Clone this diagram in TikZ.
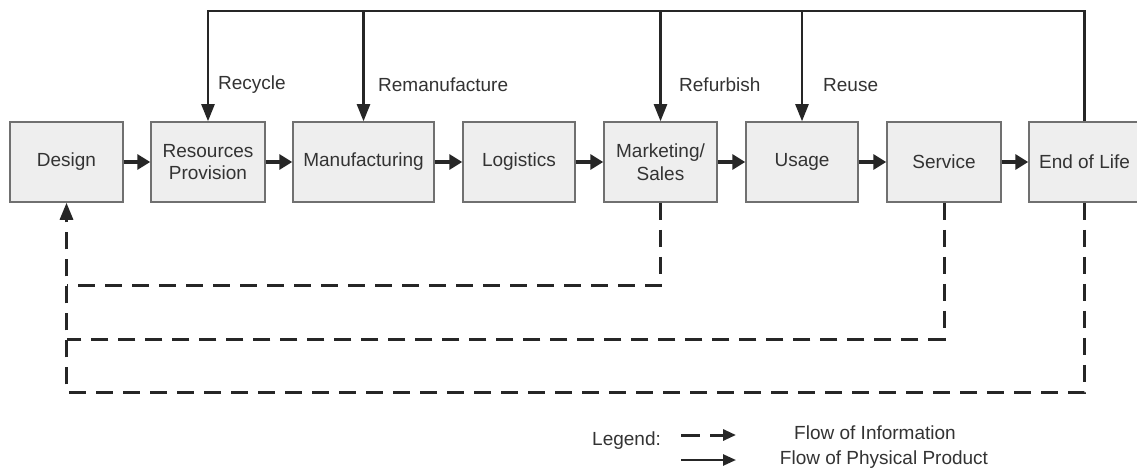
\documentclass[tikz,border=0pt]{standalone}
\usepackage{fontspec}
\setmainfont{Liberation Sans}
\usetikzlibrary{arrows.meta}
\definecolor{boxfill}{HTML}{EEEEEE}
\definecolor{boxline}{HTML}{707070}
\definecolor{ink}{HTML}{262626}
\definecolor{txt}{HTML}{333333}
\begin{document}
\begin{tikzpicture}[x=1pt,y=-1pt,
  stage/.style={draw=boxline, line width=1.5pt, fill=boxfill, minimum height=80pt,
    inner sep=0pt, text=txt, font=\fontsize{19}{22.5}\selectfont, align=center},
  flow/.style={draw=ink, line width=3.5pt, -{Triangle[length=13pt,width=15pt]}},
  product/.style={draw=ink, line width=2.3pt, -{Triangle[length=17pt,width=13pt]}},
  info/.style={draw=ink, line width=3pt, dash pattern=on 17pt off 10pt},
  infoarrow/.style={info, -{Triangle[length=17pt,width=13pt]}},
  lbl/.style={text=txt, font=\fontsize{19}{22.5}\selectfont, inner sep=0pt, anchor=west},
  legtext/.style={text=txt, font=\fontsize{19}{22.5}\selectfont, inner sep=0pt}]

\useasboundingbox (0,0) rectangle (1137,473);
\fill[white] (0,0) rectangle (1137,473);

% life-cycle stages
\node[stage, minimum width=113pt] (design) at (66.5,162) {Design};
\node[stage, minimum width=114pt] (res)    at (208,162)  {Resources\\Provision};
\node[stage, minimum width=141pt] (man)    at (363.5,162) {Manufacturing};
\node[stage, minimum width=112pt] (log)    at (519,162)  {Logistics};
\node[stage, minimum width=113pt] (mkt)    at (660.5,162) {Marketing/\\Sales};
\node[stage, minimum width=112pt] (use)    at (802,162)  {Usage};
\node[stage, minimum width=114pt] (svc)    at (944,162)  {Service};
\node[stage, minimum width=111pt] (eol)    at (1084.5,162) {End of Life};
% the last stage runs past the right edge of the page
\fill[boxfill] (1130,123) rectangle (1137,201);

% forward flow of the product
\draw[flow] (design) -- (res);
\draw[flow] (res) -- (man);
\draw[flow] (man) -- (log);
\draw[flow] (log) -- (mkt);
\draw[flow] (mkt) -- (use);
\draw[flow] (use) -- (svc);
\draw[flow] (svc) -- (eol);

% return loops of the physical product
\coordinate (topline) at (0,11);
\draw[product] (eol.north) |- (res.north |- topline) -- (res.north);
\draw[product] (man.north |- topline) -- (man.north);
\draw[product] (mkt.north |- topline) -- (mkt.north);
\draw[product] (use.north |- topline) -- (use.north);

\node[lbl] (lrecycle) at (218,85) {Recycle};
\node[lbl] (lreman)   at (378,85) {Remanufacture};
\node[lbl] (lrefurb)  at (679,85) {Refurbish};
\node[lbl] (lreuse)   at (823,85) {Reuse};

% information feedback to design
\coordinate (rowA) at (0,285);
\coordinate (rowB) at (0,339);
\coordinate (rowC) at (0,392);
\draw[info] (mkt.south) |- (design.south |- rowA);
\draw[info] (svc.south) |- (design.south |- rowB);
\draw[infoarrow] (eol.south) |- (design.south |- rowC) -- (design.south);

% legend
\node[lbl] (legend) at (592,441) {Legend:};
\coordinate (dA) at (681,435);
\coordinate (dB) at (736,435);
\coordinate (sA) at (681,460);
\coordinate (sB) at (736,460);
\draw[info, dash pattern=on 19pt off 10pt, -{Triangle[length=13pt,width=11pt]}] (dA) -- (dB);
\draw[draw=ink, line width=2.5pt, -{Triangle[length=13pt,width=11pt]}] (sA) -- (sB);
\node[legtext] (infotext) at (875,433) {Flow of Information};
\node[legtext] (prodtext) at (884,460) {Flow of Physical Product};
\end{tikzpicture}
\end{document}
